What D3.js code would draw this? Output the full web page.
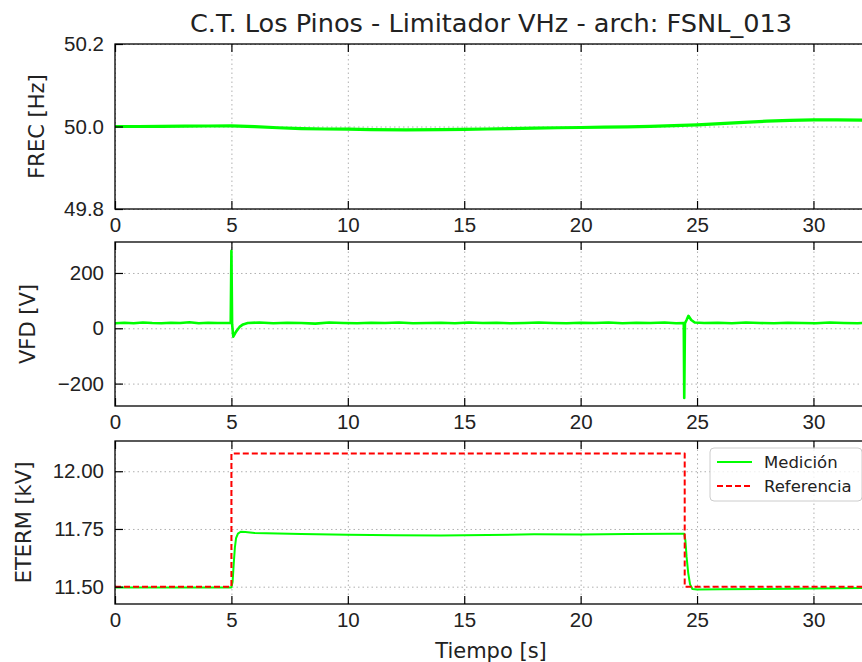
<!DOCTYPE html>
<html>
<head>
<meta charset="utf-8">
<script src="https://cdn.jsdelivr.net/npm/d3@7"></script>
<style>
  body { margin: 0; background: #fff; }
  svg { font-family: "DejaVu Sans", sans-serif; }
  .grid line { stroke: #b0b0b0; stroke-dasharray: 1.5,3; stroke-width: 1; }
  .grid path { display: none; }
  .ax path { display: none; }
  .ax line { stroke: #000; stroke-width: 1.2; }
  .ax text { font-size: 20.5px; fill: #222; }
  .spine { fill: none; stroke: #000; stroke-width: 1.3; }
  .label { font-size: 21px; fill: #222; text-anchor: middle; }
</style>
</head>
<body>
<svg width="862" height="662"></svg>
<script>
const w = 862, h = 662;
const left = 115, right = 867;

// tick labels
const xTicks = [0, 5, 10, 15, 20, 25, 30];
const frecTicks = [49.8, 50.0, 50.2];
const vfdTicks = [-200, 0, 200];
const etermTicks = [11.5, 11.75, 12.0];

// FREC [Hz]
const frecTime  = [0, 1, 2, 3, 4, 5, 6, 7, 8, 9, 10, 11, 12.5, 14, 15, 16, 17, 18, 19, 20, 21, 22, 23, 24, 25, 26, 27, 28, 29, 30, 31, 32.3];
const frecValue = [50.000, 50.000, 50.0005, 50.001, 50.0012, 50.0015, 49.9995, 49.997, 49.995, 49.994, 49.9935, 49.9925, 49.992, 49.9925, 49.9932, 49.994, 49.995, 49.996, 49.997, 49.9976, 49.9985, 49.999, 50.0005, 50.002, 50.004, 50.007, 50.010, 50.013, 50.015, 50.016, 50.016, 50.0155];

// VFD [V]
const vfdTime  = [0, 0.4, 0.8, 1.2, 1.6, 2.0, 2.4, 2.8, 3.2, 3.6, 4.0, 4.4, 4.97, 5.0, 5.03, 5.08, 5.2, 5.35, 5.5, 5.7, 6.2, 6.8, 7.4, 8.0, 8.6, 9.2, 9.8, 10.4, 11.0, 11.6, 12.2, 12.8, 13.4, 14.0, 14.6, 15.2, 15.8, 16.4, 17.0, 17.6, 18.2, 18.8, 19.4, 20.0, 20.6, 21.2, 21.8, 22.4, 23.0, 23.6, 24.1, 24.43, 24.45, 24.48, 24.55, 24.63, 24.75, 24.9, 25.3, 25.9, 26.5, 27.1, 27.7, 28.3, 28.9, 29.5, 30.1, 30.7, 31.3, 31.9, 32.3];
const vfdValue = [18, 20, 18, 21, 19, 18, 20, 19, 22, 18, 20, 19, 19, 280, 15, -30, -12, 5, 14, 19, 21, 18, 20, 19, 17, 21, 19, 18, 20, 19, 21, 18, 19, 20, 18, 21, 19, 20, 18, 19, 21, 19, 18, 20, 19, 21, 18, 20, 19, 21, 18, 19, -252, 18, 30, 45, 30, 21, 19, 20, 18, 21, 19, 18, 20, 19, 18, 21, 19, 18, 20];

// ETERM [kV] medicion
const etermTime  = [0, 5.0, 5.05, 5.1, 5.15, 5.2, 5.28, 5.4, 5.6, 6, 8, 10, 12, 14, 16, 18, 20, 22, 24, 24.45, 24.5, 24.55, 24.62, 24.7, 24.8, 25, 26, 28, 30, 32.3];
const etermValue = [11.497, 11.497, 11.52, 11.6, 11.67, 11.71, 11.73, 11.738, 11.737, 11.733, 11.728, 11.725, 11.723, 11.722, 11.724, 11.727, 11.726, 11.728, 11.729, 11.729, 11.70, 11.63, 11.56, 11.51, 11.49, 11.488, 11.489, 11.49, 11.492, 11.494];

// ETERM referencia
const refTime  = [0, 5.0, 5.0, 24.47, 24.47, 32.3];
const refValue = [11.5, 11.5, 12.077, 12.077, 11.5, 11.5];

const scaleX = d3.scaleLinear().domain([0, 32.3]).range([left, right]);

const panels = [
    {name: "FREC [Hz]", top: 44, bottom: 209, domain: [49.8, 50.2], ticks: frecTicks, fmt: d3.format(".1f"), labelX: 37,
     series: [{t: frecTime, v: frecValue, color: "#00ff00", width: 3.2}]},
    {name: "VFD [V]", top: 242, bottom: 406, domain: [-281, 312], ticks: vfdTicks, fmt: d3.format("d"), labelX: 28,
     series: [{t: vfdTime, v: vfdValue, color: "#00ff00", width: 2.6}]},
    {name: "ETERM [kV]", top: 441, bottom: 604, domain: [11.425, 12.131], ticks: etermTicks, fmt: d3.format(".2f"), labelX: 24,
     series: [{t: etermTime, v: etermValue, color: "#00ff00", width: 2},
              {t: refTime, v: refValue, color: "#ff0000", width: 2, dash: "6,3"}]}
];

const svg = d3.select("svg");

panels.forEach(function(p, i) {
    const scaleY = d3.scaleLinear().domain(p.domain).range([p.bottom, p.top]);
    const ph = p.bottom - p.top;
    const g = svg.append("g").attr("class", "panel");

    g.append("clipPath").attr("id", "clip" + i)
        .append("rect").attr("x", left).attr("y", p.top)
        .attr("width", right - left).attr("height", ph);

    // grid
    g.append("g").attr("class", "grid")
        .attr("transform", `translate(0,${p.bottom})`)
        .call(d3.axisBottom(scaleX).tickValues(xTicks).tickSize(-ph).tickFormat(""));
    g.append("g").attr("class", "grid")
        .attr("transform", `translate(${left},0)`)
        .call(d3.axisLeft(scaleY).tickValues(p.ticks).tickSize(-(right - left)).tickFormat(""));

    // data
    const line = d3.line().x(d => scaleX(d[0])).y(d => scaleY(d[1]));
    p.series.forEach(function(s) {
        g.append("path")
            .datum(s.t.map((t, k) => [t, s.v[k]]))
            .attr("clip-path", `url(#clip${i})`)
            .attr("d", line)
            .attr("fill", "none")
            .attr("stroke", s.color)
            .attr("stroke-width", s.width)
            .attr("stroke-linejoin", "round")
            .attr("stroke-dasharray", s.dash || null);
    });

    // axes, ticks pointing inward
    g.append("g").attr("class", "ax")
        .attr("transform", `translate(0,${p.bottom})`)
        .call(d3.axisBottom(scaleX).tickValues(xTicks).tickSize(-8).tickPadding(8).tickSizeOuter(0));
    g.append("g").attr("class", "ax")
        .attr("transform", `translate(0,${p.top})`)
        .call(d3.axisTop(scaleX).tickValues(xTicks).tickSize(-8).tickSizeOuter(0).tickFormat(""));
    g.append("g").attr("class", "ax")
        .attr("transform", `translate(${left},0)`)
        .call(d3.axisLeft(scaleY).tickValues(p.ticks).tickSize(-8).tickPadding(11).tickSizeOuter(0).tickFormat(p.fmt));

    g.append("rect").attr("class", "spine")
        .attr("x", left).attr("y", p.top)
        .attr("width", right - left).attr("height", ph);

    svg.append("text").attr("class", "label")
        .attr("transform", `translate(${[p.labelX, (p.top + p.bottom) / 2]}) rotate(-90)`)
        .attr("dy", "0.35em")
        .text(p.name);
});

svg.append("text").attr("class", "label")
    .attr("x", (left + right) / 2).attr("y", 32)
    .style("font-size", "25.6px")
    .text("C.T. Los Pinos - Limitador VHz - arch: FSNL_013");

svg.append("text").attr("class", "label")
    .attr("x", (left + right) / 2).attr("y", 658)
    .text("Tiempo [s]");

// legend
const legend = svg.append("g").attr("class", "legend")
    .attr("transform", `translate(${[710, 448]})`);
legend.append("rect")
    .attr("width", 152).attr("height", 53)
    .attr("rx", 4).attr("ry", 4)
    .style("fill", "rgba(255,255,255,0.8)")
    .style("stroke", "#cccccc");
const items = [["Medición", "#00ff00", null], ["Referencia", "#ff0000", "6,3"]];
items.forEach(function(d, i) {
    legend.append("line")
        .attr("x1", 7).attr("x2", 42)
        .attr("y1", 14 + i * 24).attr("y2", 14 + i * 24)
        .attr("stroke", d[1]).attr("stroke-width", 2)
        .attr("stroke-dasharray", d[2]);
    legend.append("text")
        .attr("x", 54).attr("y", 14 + i * 24)
        .attr("dy", "0.35em")
        .style("font-size", "16.5px").style("fill", "#222")
        .text(d[0]);
});
</script>
</body>
</html>
